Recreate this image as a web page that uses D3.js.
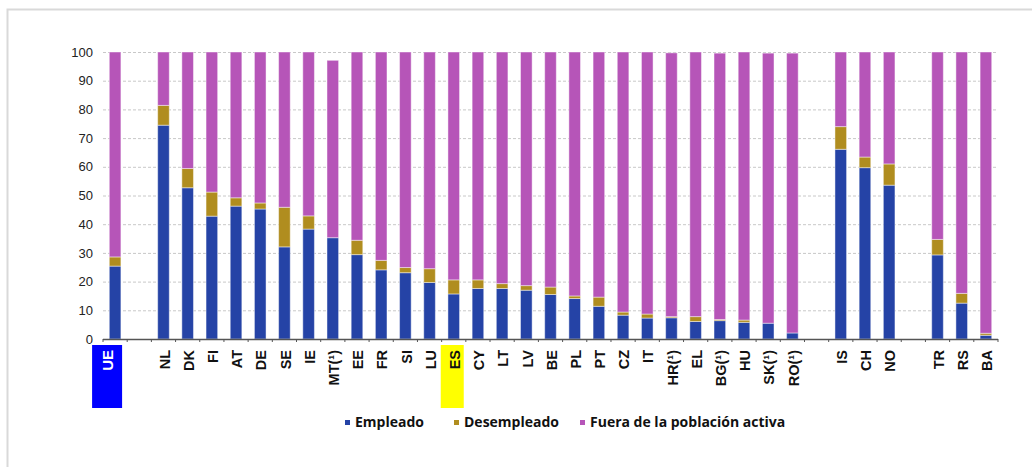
<!DOCTYPE html>
<html>
<head>
<meta charset="utf-8">
<script src="https://cdn.jsdelivr.net/npm/d3@7"></script>
<style>
  body { margin: 0; background: #fff; }
  svg { display: block; }
</style>
</head>
<body>
<svg id="chart" width="1032" height="468"></svg>
<script>
// categories, "" marks an empty slot between groups
const countries = ["UE", "", "NL", "DK", "FI", "AT", "DE", "SE", "IE", "MT(¹)", "EE", "FR", "SI", "LU",
  "ES", "CY", "LT", "LV", "BE", "PL", "PT", "CZ", "IT", "HR(¹)", "EL", "BG(¹)", "HU", "SK(¹)", "RO(¹)",
  "", "IS", "CH", "NO", "", "TR", "RS", "BA"];

const empleado = [25.4, null, 74.5, 52.7, 42.8, 46.3, 45.3, 32.1, 38.3, 35.3, 29.4, 24.1, 23.1, 19.7,
  15.7, 17.6, 17.6, 17.0, 15.5, 14.1, 11.4, 8.3, 7.3, 7.4, 6.1, 6.4, 5.8, 5.5, 2.1,
  null, 66.1, 59.7, 53.6, null, 29.3, 12.5, 1.3];
const desempleado = [3.2, null, 6.9, 6.7, 8.4, 2.9, 2.1, 13.8, 4.6, 0, 5.0, 3.3, 1.8, 4.8,
  4.9, 3.0, 1.7, 1.6, 2.6, 0.9, 3.2, 1.1, 1.4, 0.4, 1.7, 0.4, 0.8, 0, 0,
  null, 7.9, 3.7, 7.4, null, 5.4, 3.4, 0.7];
const fuera = [71.4, null, 18.6, 40.6, 48.8, 50.8, 52.6, 54.1, 57.1, 61.8, 65.6, 72.6, 75.1, 75.5,
  79.4, 79.4, 80.7, 81.4, 81.9, 85.0, 85.4, 90.6, 91.3, 91.9, 92.2, 92.8, 93.4, 94.1, 97.5,
  null, 26.0, 36.6, 39.0, null, 65.3, 84.1, 98.0];

const seriesNames = ["Empleado", "Desempleado", "Fuera de la población activa"];
const seriesColors = ["#2543a6", "#b08d1f", "#b655b8"];
const yTicks = [0, 10, 20, 30, 40, 50, 60, 70, 80, 90, 100];

const svg = d3.select("#chart");

// outer frame
svg.append("path")
  .attr("d", "M7.5,467 V9.5 H1032")
  .attr("fill", "none")
  .attr("stroke", "#d9d9d9")
  .attr("stroke-width", 2);

const x = d3.scaleBand()
  .domain(d3.range(countries.length))
  .range([103, 998])
  .paddingInner(0.52)
  .paddingOuter(0.26);

const y = d3.scaleLinear()
  .domain([0, 100])
  .range([339, 52]);

// gridlines
svg.append("g")
  .selectAll("line")
  .data(yTicks.filter(d => d > 0))
  .join("line")
  .attr("x1", 103).attr("x2", 998)
  .attr("y1", d => y(d) + 0.5).attr("y2", d => y(d) + 0.5)
  .attr("stroke", "#c8c8c8")
  .attr("stroke-dasharray", "3,2");

// y axis labels
svg.append("g")
  .attr("transform", "translate(103,0)")
  .call(d3.axisLeft(y).tickValues(yTicks).tickSize(0).tickPadding(10))
  .call(g => g.select(".domain").remove())
  .call(g => g.selectAll("text")
    .attr("font-family", "Liberation Sans, Arial, sans-serif")
    .attr("font-size", 13)
    .attr("fill", "#222"));

// stacked bars
const rows = countries.map((c, i) => ({ i, c, e: empleado[i], d: desempleado[i], f: fuera[i] }))
  .filter(r => r.c !== "");
const stack = d3.stack().keys(["e", "d", "f"]);
const layers = stack(rows);

svg.append("g")
  .selectAll("g")
  .data(layers)
  .join("g")
  .attr("fill", (d, k) => seriesColors[k])
  .selectAll("rect")
  .data(d => d.filter(s => s[1] - s[0] > 0))
  .join("rect")
  .attr("x", s => x(s.data.i))
  .attr("width", x.bandwidth())
  .attr("y", s => y(s[1]))
  .attr("height", s => y(s[0]) - y(s[1]))
  .attr("stroke", "rgba(255,255,255,0.45)")
  .attr("stroke-width", 1);

// x axis line and ticks at slot boundaries
const step = x.step();
svg.append("line")
  .attr("x1", 103).attr("x2", 998)
  .attr("y1", 339.5).attr("y2", 339.5)
  .attr("stroke", "#555")
  .attr("stroke-width", 1.5);
svg.append("g")
  .selectAll("line")
  .data(d3.range(countries.length + 1))
  .join("line")
  .attr("x1", i => 103 + i * step).attr("x2", i => 103 + i * step)
  .attr("y1", 339).attr("y2", 342)
  .attr("stroke", "#555");

// highlighted labels
const highlights = [
  { c: "UE", fill: "#0000ff", dx0: -23, dx1: 7 },
  { c: "ES", fill: "#ffff00", dx0: -13, dx1: 10 }
];
svg.append("g")
  .selectAll("rect")
  .data(highlights)
  .join("rect")
  .attr("x", h => x(countries.indexOf(h.c)) + x.bandwidth() / 2 + h.dx0)
  .attr("width", h => h.dx1 - h.dx0)
  .attr("y", 345)
  .attr("height", 63)
  .attr("fill", h => h.fill);

// x labels
svg.append("g")
  .selectAll("text")
  .data(rows)
  .join("text")
  .attr("transform", r => {
    const cx = x(r.i) + x.bandwidth() / 2 + (r.c === "UE" ? -8 : 1);
    return `translate(${cx},350) rotate(-90)`;
  })
  .attr("text-anchor", "end")
  .attr("dy", "0.36em")
  .attr("font-family", "Liberation Sans, Arial, sans-serif")
  .attr("font-weight", "bold")
  .attr("font-size", r => r.c === "UE" ? 15 : 14.5)
  .attr("fill", r => r.c === "UE" ? "#fff" : "#111")
  .text(r => r.c);

// legend
const legendX = [345, 454, 580];
const legend = svg.append("g")
  .selectAll("g")
  .data(seriesNames)
  .join("g")
  .attr("transform", (d, k) => `translate(${legendX[k]},0)`);
legend.append("rect")
  .attr("x", 0).attr("y", 420)
  .attr("width", 5).attr("height", 5)
  .attr("fill", (d, k) => seriesColors[k]);
legend.append("text")
  .attr("x", 10).attr("y", 427)
  .attr("font-family", "Open Sans, sans-serif")
  .attr("font-weight", "bold")
  .attr("font-size", 14)
  .attr("fill", "#111")
  .text(d => d);
</script>
</body>
</html>
